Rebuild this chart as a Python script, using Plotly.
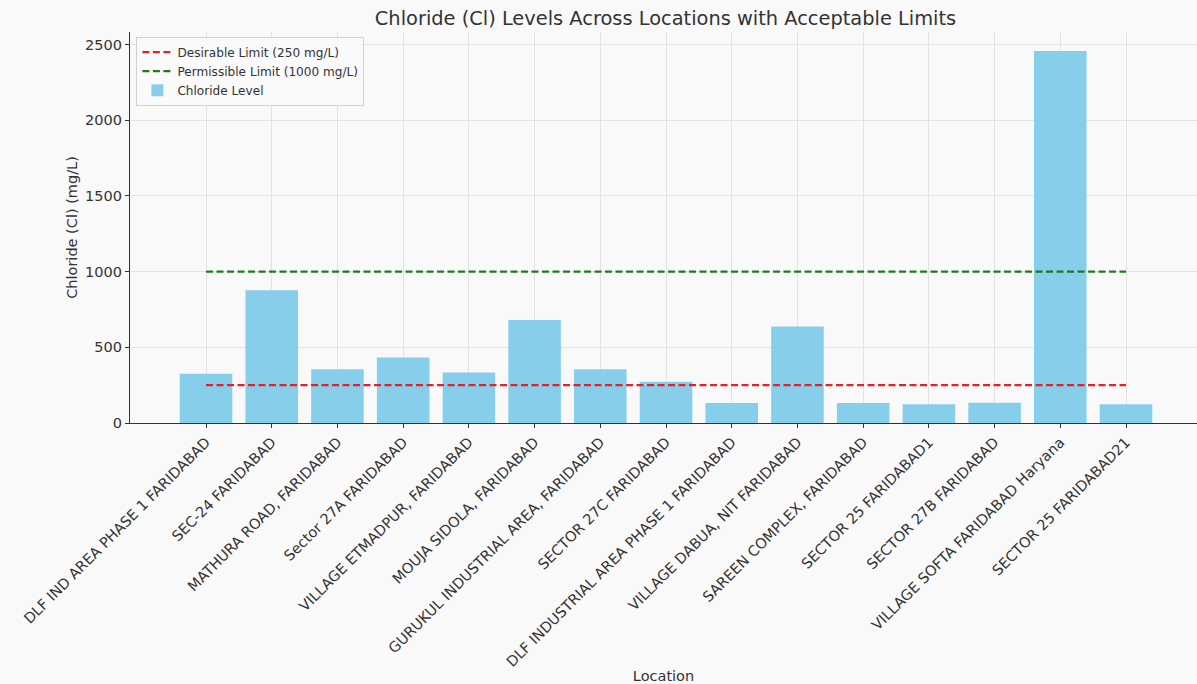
import plotly.graph_objects as go

locations = [
    "DLF IND AREA PHASE 1 FARIDABAD",
    "SEC-24 FARIDABAD",
    "MATHURA ROAD, FARIDABAD",
    "Sector 27A FARIDABAD",
    "VILLAGE ETMADPUR, FARIDABAD",
    "MOUJA SIDOLA, FARIDABAD",
    "GURUKUL INDUSTRIAL AREA, FARIDABAD",
    "SECTOR 27C FARIDABAD",
    "DLF INDUSTRIAL AREA PHASE 1 FARIDABAD",
    "VILLAGE DABUA, NIT FARIDABAD",
    "SAREEN COMPLEX, FARIDABAD",
    "SECTOR 25 FARIDABAD1",
    "SECTOR 27B FARIDABAD",
    "VILLAGE SOFTA FARIDABAD Haryana",
    "SECTOR 25 FARIDABAD21",
]
chloride = [325, 877, 355, 432, 333, 680, 355, 272, 132, 638, 132, 124, 134, 2458, 124]
desirable_limit = 250
permissible_limit = 1000

font_family = "DejaVu Sans"
fig = go.Figure()
fig.add_trace(go.Bar(
    x=locations, y=chloride, name="Chloride Level",
    marker=dict(color="#87CEEB", line=dict(width=0)),
    width=0.8, legendrank=3,
))
fig.add_trace(go.Scatter(
    x=[locations[0], locations[-1]], y=[desirable_limit, desirable_limit],
    mode="lines", name="Desirable Limit (250 mg/L)",
    line=dict(color="#e0232b", width=2.2, dash="7px,3.5px"), legendrank=1,
))
fig.add_trace(go.Scatter(
    x=[locations[0], locations[-1]], y=[permissible_limit, permissible_limit],
    mode="lines", name="Permissible Limit (1000 mg/L)",
    line=dict(color="#1f7a1f", width=2.2, dash="7px,3.5px"), legendrank=2,
))

fig.update_layout(
    width=1197, height=684,
    margin=dict(l=130, r=0, t=32, b=261),
    paper_bgcolor="#f9f9f9", plot_bgcolor="#f9f9f9",
    font=dict(family=font_family, size=13, color="#333333"),
    title=dict(text="Chloride (Cl) Levels Across Locations with Acceptable Limits",
               x=0.556, xanchor="center", y=0.974, yanchor="middle",
               font=dict(size=19.4, color="#333333")),
    showlegend=True,
    legend=dict(x=0.006, y=0.988, xanchor="left", yanchor="top",
                bgcolor="rgba(250,250,250,0.9)", bordercolor="#d0d0d0", borderwidth=1,
                font=dict(size=12.1), tracegroupgap=0, itemwidth=30),
    bargap=0.2,
)
fig.update_xaxes(
    type="category", range=[-1.157, 15.08],
    tickangle=-45, tickfont=dict(size=14.5),
    showgrid=True, gridcolor="#e3e3e3", gridwidth=0.8,
    showline=True, linecolor="#333333", linewidth=1.2,
    ticks="outside", ticklen=4, tickcolor="#333333",
    title=dict(text="Location", font=dict(size=14.5), standoff=6),
    automargin=False,
)
fig.update_yaxes(
    range=[0, 2583], tickvals=[0, 500, 1000, 1500, 2000, 2500],
    tickfont=dict(size=14.5),
    showgrid=True, gridcolor="#e3e3e3", gridwidth=0.8, zeroline=False,
    showline=True, linecolor="#333333", linewidth=1.2,
    ticks="outside", ticklen=4, tickcolor="#333333",
    title=dict(text="Chloride (Cl) (mg/L)", font=dict(size=14.5), standoff=4),
    automargin=False,
)
fig.write_html("out.html")
